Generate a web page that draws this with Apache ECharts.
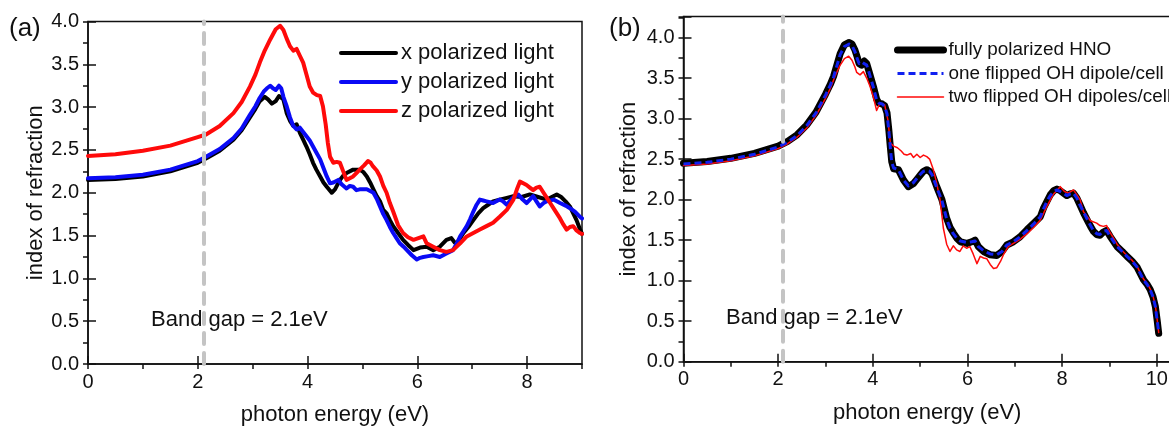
<!DOCTYPE html>
<html>
<head>
<meta charset="utf-8">
<script src="https://cdn.jsdelivr.net/npm/echarts@6/dist/echarts.min.js"></script>
<style>
  html, body { margin: 0; padding: 0; background: #fff; }
  #chart { width: 1169px; height: 426px; }
</style>
</head>
<body>
<div id="chart"></div>
<script>
// ---- data: photon energy (eV) vs index of refraction ----
const BAND_GAP = 2.1;
const bandGapText = 'Band gap = 2.1eV';
const xTitle = 'photon energy (eV)';
const yTitle = 'index of refraction';
const legendA = ['x polarized light', 'y polarized light', 'z polarized light'];
const legendB = ['fully polarized HNO', 'one flipped OH dipole/cell', 'two flipped OH dipoles/cell'];

// panel (a): polarization-resolved index
const xPolarized = [[0,2.15],[0.5,2.16],[1.0,2.19],[1.5,2.25],[2.0,2.35],[2.15,2.40],[2.4,2.49],[2.65,2.62],[2.8,2.73],[2.95,2.88],[3.05,2.98],[3.13,3.07],[3.22,3.12],[3.28,3.09],[3.35,3.04],[3.42,3.07],[3.48,3.13],[3.56,3.09],[3.62,2.93],[3.68,2.84],[3.74,2.78],[3.80,2.80],[3.86,2.70],[3.92,2.62],[3.98,2.54],[4.04,2.45],[4.10,2.35],[4.16,2.27],[4.23,2.19],[4.29,2.12],[4.35,2.07],[4.44,2.00],[4.50,2.04],[4.59,2.15],[4.65,2.20],[4.71,2.23],[4.83,2.27],[4.95,2.27],[5.02,2.24],[5.08,2.19],[5.14,2.12],[5.20,2.04],[5.26,1.96],[5.32,1.90],[5.38,1.80],[5.44,1.76],[5.50,1.68],[5.56,1.61],[5.65,1.53],[5.74,1.45],[5.83,1.39],[5.93,1.33],[6.05,1.36],[6.17,1.37],[6.29,1.33],[6.41,1.37],[6.53,1.45],[6.62,1.47],[6.68,1.42],[6.72,1.41],[6.78,1.47],[6.84,1.53],[6.93,1.60],[7.02,1.68],[7.11,1.76],[7.20,1.82],[7.29,1.86],[7.38,1.90],[7.50,1.92],[7.63,1.94],[7.75,1.96],[7.90,1.95],[8.05,1.98],[8.20,1.95],[8.36,1.92],[8.45,1.95],[8.54,1.98],[8.62,1.95],[8.70,1.90],[8.78,1.84],[8.84,1.76],[8.90,1.68],[8.96,1.58],[9.0,1.52]];
const yPolarized = [[0,2.17],[0.5,2.18],[1.0,2.21],[1.5,2.27],[2.0,2.37],[2.15,2.42],[2.4,2.51],[2.65,2.64],[2.8,2.75],[2.95,2.91],[3.05,3.01],[3.13,3.11],[3.20,3.18],[3.26,3.22],[3.32,3.25],[3.37,3.22],[3.42,3.20],[3.48,3.25],[3.52,3.22],[3.56,3.12],[3.62,3.01],[3.68,2.88],[3.74,2.78],[3.80,2.74],[3.86,2.76],[3.92,2.71],[3.98,2.66],[4.04,2.61],[4.10,2.54],[4.16,2.47],[4.23,2.39],[4.29,2.29],[4.35,2.19],[4.41,2.11],[4.47,2.12],[4.56,2.15],[4.62,2.10],[4.71,2.05],[4.77,2.08],[4.83,2.07],[4.89,2.03],[4.95,2.04],[5.08,2.04],[5.14,2.02],[5.20,2.00],[5.26,1.93],[5.32,1.84],[5.38,1.75],[5.44,1.68],[5.50,1.60],[5.56,1.53],[5.62,1.47],[5.68,1.41],[5.75,1.37],[5.81,1.33],[5.90,1.27],[5.99,1.22],[6.05,1.24],[6.11,1.25],[6.20,1.26],[6.29,1.27],[6.41,1.25],[6.53,1.29],[6.65,1.33],[6.72,1.41],[6.78,1.49],[6.84,1.55],[6.90,1.61],[6.96,1.69],[7.02,1.78],[7.08,1.86],[7.14,1.92],[7.20,1.91],[7.26,1.90],[7.38,1.88],[7.50,1.92],[7.56,1.90],[7.63,1.86],[7.72,1.93],[7.84,1.98],[7.92,1.92],[7.99,1.88],[8.05,1.92],[8.11,1.96],[8.17,1.90],[8.23,1.84],[8.30,1.88],[8.36,1.90],[8.48,1.92],[8.60,1.88],[8.70,1.85],[8.78,1.82],[8.87,1.78],[8.96,1.72],[9.0,1.70]];
const zPolarized = [[0,2.43],[0.5,2.45],[1.0,2.49],[1.5,2.55],[2.0,2.65],[2.15,2.68],[2.4,2.78],[2.65,2.93],[2.8,3.06],[2.95,3.24],[3.05,3.38],[3.13,3.52],[3.22,3.66],[3.32,3.79],[3.42,3.91],[3.50,3.95],[3.56,3.90],[3.62,3.80],[3.68,3.71],[3.74,3.66],[3.80,3.68],[3.86,3.60],[3.92,3.52],[3.98,3.38],[4.04,3.24],[4.10,3.17],[4.17,3.14],[4.23,3.13],[4.28,3.01],[4.33,2.80],[4.37,2.58],[4.41,2.42],[4.47,2.35],[4.53,2.36],[4.59,2.35],[4.65,2.25],[4.71,2.15],[4.77,2.17],[4.83,2.19],[4.89,2.23],[4.95,2.27],[5.03,2.32],[5.10,2.37],[5.15,2.35],[5.19,2.31],[5.26,2.26],[5.32,2.19],[5.38,2.08],[5.44,2.00],[5.50,1.88],[5.56,1.78],[5.65,1.62],[5.74,1.53],[5.83,1.48],[5.93,1.45],[6.02,1.47],[6.11,1.49],[6.17,1.41],[6.29,1.37],[6.41,1.33],[6.53,1.31],[6.65,1.33],[6.78,1.41],[6.90,1.49],[7.02,1.53],[7.14,1.57],[7.26,1.61],[7.38,1.65],[7.50,1.72],[7.63,1.80],[7.75,1.92],[7.82,2.05],[7.87,2.13],[7.93,2.11],[7.99,2.09],[8.05,2.06],[8.11,2.03],[8.17,2.06],[8.23,2.07],[8.30,2.00],[8.36,1.94],[8.42,1.88],[8.50,1.80],[8.60,1.70],[8.66,1.63],[8.72,1.57],[8.78,1.60],[8.84,1.61],[8.90,1.56],[8.96,1.53],[9.0,1.52]];

// panel (b): OH dipole configurations
const fullyPolarized = [[0,2.45],[0.5,2.47],[1.0,2.51],[1.5,2.57],[2.0,2.66],[2.2,2.72],[2.4,2.80],[2.6,2.92],[2.8,3.08],[3.0,3.30],[3.1,3.42],[3.17,3.52],[3.25,3.68],[3.31,3.80],[3.40,3.91],[3.50,3.94],[3.56,3.92],[3.62,3.85],[3.67,3.76],[3.71,3.68],[3.76,3.66],[3.82,3.71],[3.87,3.68],[3.92,3.58],[4.01,3.40],[4.08,3.24],[4.13,3.19],[4.20,3.18],[4.25,3.16],[4.30,3.07],[4.34,2.85],[4.37,2.65],[4.40,2.47],[4.44,2.38],[4.54,2.37],[4.60,2.30],[4.65,2.24],[4.75,2.16],[4.86,2.20],[4.93,2.25],[5.00,2.30],[5.07,2.35],[5.14,2.37],[5.20,2.35],[5.25,2.32],[5.35,2.16],[5.46,2.00],[5.56,1.77],[5.63,1.66],[5.70,1.59],[5.78,1.52],[5.85,1.48],[5.92,1.47],[5.99,1.46],[6.09,1.48],[6.16,1.50],[6.23,1.42],[6.34,1.36],[6.48,1.32],[6.62,1.31],[6.73,1.36],[6.83,1.44],[6.97,1.48],[7.11,1.54],[7.26,1.63],[7.40,1.71],[7.54,1.79],[7.61,1.90],[7.68,1.98],[7.75,2.06],[7.82,2.11],[7.89,2.13],[7.96,2.11],[8.03,2.08],[8.10,2.05],[8.17,2.07],[8.24,2.08],[8.31,2.02],[8.38,1.93],[8.45,1.84],[8.52,1.76],[8.60,1.67],[8.66,1.61],[8.73,1.57],[8.80,1.56],[8.87,1.60],[8.94,1.62],[9.01,1.55],[9.16,1.42],[9.27,1.36],[9.37,1.30],[9.48,1.24],[9.58,1.17],[9.65,1.09],[9.72,1.01],[9.80,0.95],[9.86,0.89],[9.92,0.80],[9.97,0.68],[10.01,0.50],[10.04,0.35]];
const oneFlipped = [[0,2.44],[0.5,2.46],[1.0,2.50],[1.5,2.56],[2.0,2.65],[2.2,2.71],[2.4,2.79],[2.6,2.91],[2.8,3.07],[3.0,3.29],[3.1,3.41],[3.17,3.51],[3.25,3.67],[3.31,3.79],[3.40,3.89],[3.50,3.92],[3.56,3.90],[3.62,3.83],[3.67,3.74],[3.71,3.68],[3.76,3.70],[3.80,3.72],[3.87,3.66],[3.92,3.57],[4.01,3.39],[4.08,3.23],[4.13,3.19],[4.20,3.18],[4.25,3.15],[4.30,3.06],[4.34,2.84],[4.37,2.64],[4.40,2.46],[4.44,2.39],[4.54,2.37],[4.60,2.30],[4.65,2.24],[4.75,2.17],[4.86,2.21],[4.93,2.26],[5.00,2.31],[5.07,2.35],[5.14,2.36],[5.20,2.35],[5.25,2.31],[5.35,2.15],[5.46,1.99],[5.56,1.76],[5.63,1.65],[5.70,1.58],[5.78,1.52],[5.85,1.49],[5.92,1.48],[5.99,1.47],[6.09,1.48],[6.16,1.49],[6.23,1.42],[6.34,1.37],[6.48,1.33],[6.62,1.32],[6.73,1.36],[6.83,1.44],[6.97,1.48],[7.11,1.54],[7.26,1.62],[7.40,1.70],[7.54,1.79],[7.61,1.89],[7.68,1.98],[7.75,2.05],[7.82,2.10],[7.89,2.12],[7.96,2.10],[8.03,2.08],[8.10,2.05],[8.17,2.07],[8.24,2.08],[8.31,2.02],[8.38,1.93],[8.45,1.85],[8.52,1.77],[8.60,1.68],[8.66,1.62],[8.73,1.58],[8.80,1.57],[8.87,1.61],[8.94,1.62],[9.01,1.55],[9.16,1.42],[9.27,1.36],[9.37,1.30],[9.48,1.24],[9.58,1.17],[9.65,1.09],[9.72,1.01],[9.80,0.95],[9.86,0.89],[9.92,0.80],[9.97,0.68],[10.01,0.50],[10.04,0.36]];
const twoFlipped = [[0,2.42],[0.5,2.44],[1.0,2.48],[1.5,2.54],[2.0,2.63],[2.2,2.69],[2.4,2.77],[2.6,2.88],[2.8,3.04],[3.0,3.25],[3.1,3.37],[3.2,3.52],[3.3,3.65],[3.4,3.74],[3.49,3.77],[3.56,3.72],[3.62,3.64],[3.66,3.57],[3.73,3.54],[3.80,3.58],[3.87,3.50],[3.94,3.40],[4.01,3.27],[4.08,3.10],[4.15,3.19],[4.25,3.17],[4.32,2.98],[4.37,2.70],[4.44,2.66],[4.52,2.64],[4.60,2.60],[4.66,2.56],[4.72,2.55],[4.80,2.57],[4.86,2.52],[4.93,2.56],[5.00,2.52],[5.07,2.55],[5.14,2.53],[5.20,2.50],[5.28,2.37],[5.35,2.20],[5.42,2.00],[5.49,1.65],[5.56,1.45],[5.63,1.36],[5.70,1.43],[5.77,1.38],[5.84,1.36],[5.91,1.43],[5.98,1.40],[6.05,1.42],[6.12,1.33],[6.20,1.21],[6.27,1.30],[6.34,1.28],[6.41,1.27],[6.48,1.20],[6.55,1.15],[6.62,1.16],[6.70,1.24],[6.76,1.32],[6.86,1.42],[6.97,1.46],[7.11,1.51],[7.26,1.58],[7.40,1.66],[7.54,1.75],[7.68,1.92],[7.82,2.07],[7.96,2.16],[8.05,2.10],[8.13,2.08],[8.24,2.12],[8.38,2.00],[8.45,1.85],[8.60,1.74],[8.73,1.71],[8.80,1.68],[8.87,1.67],[8.94,1.68],[9.01,1.60],[9.16,1.45],[9.27,1.37],[9.37,1.31],[9.48,1.25],[9.58,1.18],[9.65,1.10],[9.72,1.02],[9.80,0.96],[9.86,0.90],[9.92,0.81],[9.97,0.69],[10.01,0.51],[10.04,0.36]];

// ---- styling ----
const INK = '#111';
const FONT = '"Liberation Sans", Arial, sans-serif';

function majorX(grid, max) {
  return {
    type: 'value', gridIndex: grid, min: 0, max: max, interval: 2,
    axisLine: { show: true, onZero: false, lineStyle: { color: INK, width: 1.5 } },
    axisTick: { show: true, inside: true, length: 8, lineStyle: { color: INK, width: 1.5 } },
    axisLabel: { color: INK, fontSize: 20, fontFamily: FONT, margin: 8, showMaxLabel: false },
    splitLine: { show: false },
    name: xTitle, nameLocation: 'middle', nameGap: 40,
    nameTextStyle: { color: INK, fontSize: 22, fontFamily: FONT }
  };
}
function minorX(grid, max) {
  return {
    type: 'value', gridIndex: grid, min: 0, max: max, interval: 1,
    axisLine: { show: false },
    axisTick: { show: true, inside: true, length: 5, lineStyle: { color: INK, width: 1.5 } },
    axisLabel: { show: false }, splitLine: { show: false }
  };
}
function majorY(grid, max, gap) {
  return {
    type: 'value', gridIndex: grid, min: 0, max: max, interval: 0.5,
    axisLine: { show: true, onZero: false, lineStyle: { color: INK, width: 1.5 } },
    axisTick: { show: true, inside: true, length: 8, lineStyle: { color: INK, width: 1.5 } },
    axisLabel: {
      color: INK, fontSize: 20, fontFamily: FONT, margin: 9,
      formatter: v => (Math.abs(v * 2 - Math.round(v * 2)) < 1e-6 ? v.toFixed(1) : '')
    },
    splitLine: { show: false },
    name: yTitle, nameLocation: 'middle', nameGap: gap,
    nameTextStyle: { color: INK, fontSize: 22, fontFamily: FONT }
  };
}
function minorY(grid, max) {
  return {
    type: 'value', gridIndex: grid, min: 0, max: max, interval: 0.25,
    axisLine: { show: false },
    axisTick: { show: true, inside: true, length: 5, lineStyle: { color: INK, width: 1.5 } },
    axisLabel: { show: false }, splitLine: { show: false }
  };
}

const bandGapLine = {
  silent: true, symbol: ['none', 'none'], animation: false,
  label: { show: false },
  lineStyle: { color: '#c4c4c4', width: 4, type: [11, 9], cap: 'round' },
  data: [{ xAxis: BAND_GAP }]
};

function curve(name, data, xi, yi, color, width, extra) {
  return Object.assign({
    name: name, type: 'line', data: data, xAxisIndex: xi, yAxisIndex: yi,
    symbol: 'none', showSymbol: false, animation: false,
    lineStyle: { color: color, width: width, join: 'round', cap: 'round' },
    itemStyle: { color: color }
  }, extra || {});
}

const hideDot = { opacity: 0 };

const option = {
  backgroundColor: '#fff',
  animation: false,
  grid: [
    { left: 88, top: 21.5, width: 494, height: 342.5, show: true, borderColor: INK, borderWidth: 1.5,
      containLabel: false, outerBoundsMode: 'none' },
    { left: 683.5, top: 16.5, width: 487.5, height: 345.2, show: true, borderColor: INK, borderWidth: 1.5,
      containLabel: false, outerBoundsMode: 'none' }
  ],
  xAxis: [majorX(0, 9), minorX(0, 9), majorX(1, 10.3), minorX(1, 10.3)],
  yAxis: [majorY(0, 4, 40), minorY(0, 4), majorY(1, 4.26, 44), minorY(1, 4.26)],
  legend: [
    {
      left: 339, top: 42, padding: 0, orient: 'vertical', itemWidth: 55, itemHeight: 14, itemGap: 7,
      textStyle: { color: INK, fontSize: 22, fontFamily: FONT, lineHeight: 22 },
      data: [
        { name: legendA[0], lineStyle: { width: 4 }, itemStyle: hideDot },
        { name: legendA[1], lineStyle: { width: 4 }, itemStyle: hideDot },
        { name: legendA[2], lineStyle: { width: 4 }, itemStyle: hideDot }
      ],
      selectedMode: false
    },
    {
      left: 894, top: 40.5, padding: 0, orient: 'vertical', itemWidth: 46, itemHeight: 14, itemGap: 4.5,
      textStyle: { color: INK, fontSize: 18.9, fontFamily: FONT, lineHeight: 19 },
      data: [
        { name: legendB[0], lineStyle: { width: 7 }, itemStyle: hideDot },
        { name: legendB[1], lineStyle: { width: 3 }, itemStyle: hideDot },
        { name: legendB[2], lineStyle: { width: 1.5 }, itemStyle: hideDot }
      ],
      selectedMode: false
    }
  ],
  graphic: [
    { type: 'text', left: 9, top: 16, style: { text: '(a)', fill: INK, font: '26px ' + FONT } },
    { type: 'text', left: 609, top: 16, style: { text: '(b)', fill: INK, font: '26px ' + FONT } },
    { type: 'text', left: 151, top: 309, style: { text: bandGapText, fill: INK, font: '22px ' + FONT } },
    { type: 'text', left: 726, top: 307, style: { text: bandGapText, fill: INK, font: '22px ' + FONT } }
  ],
  series: [
    curve(legendA[0], xPolarized, 0, 0, '#000000', 4, { markLine: bandGapLine }),
    curve(legendA[1], yPolarized, 0, 0, '#0a0af5', 4),
    curve(legendA[2], zPolarized, 0, 0, '#ff0a0a', 4),
    curve(legendB[0], fullyPolarized, 2, 2, '#000000', 7, { markLine: bandGapLine }),
    curve(legendB[2], twoFlipped, 2, 2, '#ff0a0a', 1.5),
    curve(legendB[1], oneFlipped, 2, 2, '#1020f0', 3, {
      lineStyle: { color: '#1020f0', width: 3, type: [7, 4], join: 'round' }
    })
  ]
};

const chart = echarts.init(document.getElementById('chart'), null, { renderer: 'canvas' });
chart.setOption(option);
</script>
</body>
</html>
